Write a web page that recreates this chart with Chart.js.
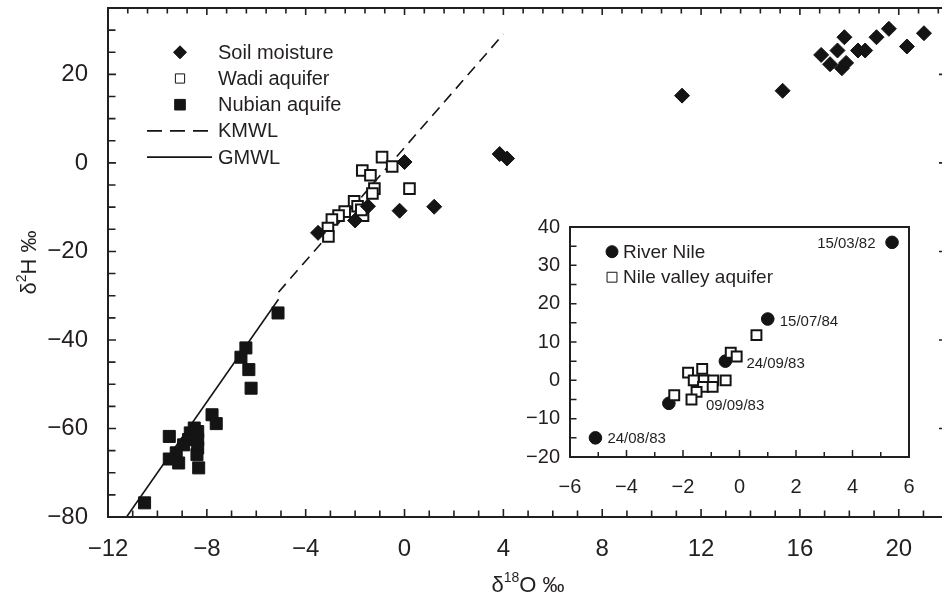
<!DOCTYPE html>
<html>
<head>
<meta charset="utf-8">
<script src="https://cdn.jsdelivr.net/npm/chart.js@4.4.1/dist/chart.umd.min.js"></script>
<style>
  html, body { margin: 0; padding: 0; background: #fff; }
  #wrap { position: relative; width: 942px; height: 602px; overflow: hidden; }
  #main { position: absolute; left: 0; top: 0; }
  #inset { position: absolute; left: 515px; top: 215px; }
</style>
</head>
<body>
<div id="wrap">
  <canvas id="main" width="942" height="602"></canvas>
  <canvas id="inset" width="400" height="290"></canvas>
</div>
<script>
// ---- main plot: δ18O (‰) and δ2H (‰) ----
const soilO = [0.0, -0.2, 1.2, -3.5, -2.0, -1.48, 3.85, 4.15, 11.23, 15.3, 16.86, 17.22, 17.52, 17.7, 17.87, 17.8, 18.35, 18.64, 19.1, 19.6, 20.33, 21.02];
const soilH = [0.2, -10.8, -9.9, -15.8, -13.0, -9.8, 2.0, 1.0, 15.2, 16.3, 24.4, 22.3, 25.4, 21.4, 22.6, 28.4, 25.4, 25.4, 28.4, 30.3, 26.3, 29.3];

const wadiO = [-0.91, -0.5, -1.71, -1.38, -1.22, -1.3, 0.2, -2.04, -1.9, -1.68, -1.75, -2.42, -2.67, -2.94, -3.1, -3.08];
const wadiH = [1.3, -0.8, -1.7, -2.8, -5.8, -6.9, -5.8, -8.7, -9.8, -11.9, -10.6, -11.0, -11.9, -12.8, -14.7, -16.6];

const nubianO = [-5.12, -6.42, -6.62, -6.3, -6.21, -7.79, -7.62, -9.52, -8.51, -8.67, -8.37, -8.37, -8.37, -8.4, -8.74, -8.94, -9.24, -9.52, -9.14, -8.33, -10.52];
const nubianH = [-33.9, -41.8, -43.9, -46.7, -50.9, -56.9, -58.9, -61.8, -59.9, -61.0, -60.7, -62.5, -64.4, -65.9, -62.5, -63.7, -65.5, -66.9, -67.8, -68.9, -76.8];

const kmwlO = [-5.1, 4.0];
const kmwlH = [-29.2, 29.1];
const gmwlO = [-11.25, -5.1];
const gmwlH = [-80, -30.8];

const mainXTicks = [-12, -8, -4, 0, 4, 8, 12, 16, 20];
const mainYTicks = [-80, -60, -40, -20, 0, 20];

// ---- inset: River Nile and Nile valley aquifer ----
const nileO = [5.4, 1.0, -0.5, -2.5, -5.1];
const nileH = [36, 16, 5, -6, -15];
const nileDates = ['15/03/82', '15/07/84', '24/09/83', '09/09/83', '24/08/83'];

const valleyO = [0.6, -0.31, -0.1, -2.31, -1.82, -1.32, -1.62, -1.26, -0.93, -0.49, -1.29, -0.95, -1.52, -1.7];
const valleyH = [11.8, 7.2, 6.2, -3.9, 2.0, 3.0, 0.0, 0.0, 0.0, 0.0, -1.7, -1.7, -3.0, -5.0];

const insetXTicks = [-6, -4, -2, 0, 2, 4, 6];
const insetYTicks = [-20, -10, 0, 10, 20, 30, 40];

// ---- drawing helpers ----
const INK = '#231f20';
const MARK = '#141414';
const FONT = "'Liberation Sans', Arial, Helvetica, sans-serif";

const pts = (xs, ys) => xs.map((x, i) => ({ x, y: ys[i] }));
const signed = v => String(v).replace('-', '\u2212');
const fixedTicks = list => scale => { scale.ticks = list.map(v => ({ value: v })); };
// fixed axis thickness, no extra room reserved for end labels
const fixedSize = (prop, px) => scale => {
  scale[prop] = px;
  scale.paddingTop = scale.paddingBottom = scale.paddingLeft = scale.paddingRight = 0;
};

// frame lines around the plot area plus inward-pointing tick marks
const frame = {
  id: 'frame',
  afterDatasetsDraw(chart, _args, o) {
    const { ctx, chartArea: a, scales } = chart;
    ctx.save();
    ctx.strokeStyle = INK;
    ctx.lineWidth = o.lineWidth;
    ctx.beginPath();
    ctx.moveTo(o.open ? a.right + 2 : a.right, a.top);
    ctx.lineTo(a.left, a.top);
    ctx.lineTo(a.left, a.bottom);
    ctx.lineTo(o.open ? a.right + 2 : a.right, a.bottom);
    if (!o.open) ctx.closePath();
    ctx.stroke();
    ctx.lineWidth = o.tickWidth;
    ctx.beginPath();
    for (const m of o.marks) {
      const s = scales[m.scale];
      for (let k = 0; ; k++) {
        const v = s.min + k * m.step;
        if (v > s.max + 1e-9) break;
        const len = k % m.every === 0 ? m.major : m.minor;
        const p = s.getPixelForValue(v);
        if (m.side === 'bottom') { ctx.moveTo(p, a.bottom); ctx.lineTo(p, a.bottom - len); }
        if (m.side === 'top') { ctx.moveTo(p, a.top); ctx.lineTo(p, a.top + len); }
        if (m.side === 'left') { ctx.moveTo(a.left, p); ctx.lineTo(a.left + len, p); }
        if (m.side === 'right') { ctx.moveTo(a.right, p); ctx.lineTo(a.right - len, p); }
      }
    }
    ctx.stroke();
    ctx.restore();
  }
};

// text with a raised part, e.g. δ18O
function richText(ctx, parts, x, y, size) {
  const fontOf = p => `${p.sup ? Math.round(size * 0.64) : size}px ${FONT}`;
  const widths = parts.map(p => { ctx.font = fontOf(p); return ctx.measureText(p.t).width; });
  let cx = x - widths.reduce((s, w) => s + w, 0) / 2;
  ctx.textAlign = 'left';
  ctx.textBaseline = 'middle';
  parts.forEach((p, i) => {
    ctx.font = fontOf(p);
    ctx.fillText(p.t, cx, y - (p.sup ? size * 0.36 : 0));
    cx += widths[i];
  });
}

const axisTitles = {
  id: 'axisTitles',
  afterDraw(chart, _args, o) {
    const { ctx, chartArea: a } = chart;
    ctx.save();
    ctx.fillStyle = INK;
    richText(ctx, o.x, (a.left + a.right) / 2 + o.xShift, o.xPos, o.size);
    ctx.translate(o.yPos, (a.top + a.bottom) / 2);
    ctx.rotate(-Math.PI / 2);
    richText(ctx, o.y, 0, 0, o.size);
    ctx.restore();
  }
};

// legend drawn as a block inside the plot
const keyBlock = {
  id: 'keyBlock',
  afterDraw(chart, _args, o) {
    const { ctx } = chart;
    ctx.save();
    o.items.forEach((it, i) => {
      const y = o.top + i * o.gap;
      ctx.strokeStyle = MARK;
      ctx.fillStyle = it.fill;
      if (it.line) {
        ctx.lineWidth = 1.8;
        ctx.setLineDash(it.dash || []);
        ctx.beginPath();
        ctx.moveTo(o.lineFrom, y);
        ctx.lineTo(o.lineTo, y);
        ctx.stroke();
        ctx.setLineDash([]);
      } else {
        Chart.helpers.drawPoint(ctx, { pointStyle: it.style, radius: it.r, borderWidth: it.bw, rotation: 0 }, o.markX, y);
      }
      ctx.fillStyle = INK;
      ctx.font = `${o.size}px ${FONT}`;
      ctx.textAlign = 'left';
      ctx.textBaseline = 'middle';
      ctx.fillText(it.text, o.textX, y + 1);
    });
    ctx.restore();
  }
};

// sampling dates beside the River Nile points
const dateTags = {
  id: 'dateTags',
  afterDatasetsDraw(chart, _args, o) {
    const { ctx, scales: { x, y } } = chart;
    ctx.save();
    ctx.fillStyle = INK;
    ctx.font = `${o.size}px ${FONT}`;
    ctx.textBaseline = 'middle';
    nileDates.forEach((t, i) => {
      const pl = o.place[i];
      ctx.textAlign = pl.align;
      ctx.fillText(t, x.getPixelForValue(nileO[i]) + pl.dx, y.getPixelForValue(nileH[i]) + pl.dy);
    });
    ctx.restore();
  }
};

const tickFont = size => ({ size, family: FONT });

// ---- main chart ----
new Chart(document.getElementById('main'), {
  type: 'scatter',
  data: {
    datasets: [
      { label: 'Soil moisture', data: pts(soilO, soilH), pointStyle: 'rectRot', pointRadius: 7.5,
        backgroundColor: MARK, borderColor: MARK, borderWidth: 1, order: 1 },
      { label: 'Wadi aquifer', data: pts(wadiO, wadiH), pointStyle: 'rect', pointRadius: 7.5,
        backgroundColor: '#fff', borderColor: MARK, borderWidth: 2, order: 2 },
      { label: 'Nubian aquife', data: pts(nubianO, nubianH), pointStyle: 'rect', pointRadius: 8.5,
        backgroundColor: MARK, borderColor: MARK, borderWidth: 1, order: 3 },
      { label: 'KMWL', data: pts(kmwlO, kmwlH), showLine: true, borderDash: [11, 7],
        borderColor: MARK, borderWidth: 1.6, pointRadius: 0, order: 4 },
      { label: 'GMWL', data: pts(gmwlO, gmwlH), showLine: true,
        borderColor: MARK, borderWidth: 1.6, pointRadius: 0, order: 5 }
    ]
  },
  options: {
    responsive: false,
    animation: false,
    devicePixelRatio: 1,
    events: [],
    layout: { autoPadding: false, padding: { top: 8, right: 0, left: 0, bottom: 0 } },
    scales: {
      x: {
        type: 'linear', min: -12, max: 21.75,
        afterBuildTicks: fixedTicks(mainXTicks),
        afterFit: fixedSize('height', 85),
        grid: { display: false, drawTicks: false },
        border: { display: false },
        ticks: { font: tickFont(24), color: INK, padding: 18, autoSkip: false, maxRotation: 0, callback: signed }
      },
      y: {
        type: 'linear', min: -80, max: 35,
        afterBuildTicks: fixedTicks(mainYTicks),
        afterFit: fixedSize('width', 108),
        grid: { display: false, drawTicks: false },
        border: { display: false },
        ticks: { font: tickFont(24), color: INK, padding: 20, autoSkip: false, callback: signed }
      }
    },
    plugins: {
      legend: { display: false },
      tooltip: { enabled: false },
      frame: {
        open: true, lineWidth: 2, tickWidth: 1.6,
        marks: [
          { scale: 'x', side: 'bottom', step: 1, every: 4, major: 8, minor: 6.5 },
          { scale: 'x', side: 'top', step: 0.8, every: 5, major: 7, minor: 5.5 },
          { scale: 'y', side: 'left', step: 5, every: 4, major: 8, minor: 7.5 },
          { scale: 'y', side: 'right', step: 20, every: 1, major: 3, minor: 3 }
        ]
      },
      axisTitles: {
        size: 22, xPos: 586, yPos: 30, xShift: 3,
        x: [{ t: 'δ' }, { t: '18', sup: true }, { t: 'O ‰' }],
        y: [{ t: 'δ' }, { t: '2', sup: true }, { t: 'H ‰' }]
      },
      keyBlock: {
        top: 52.3, gap: 26.2, markX: 180, textX: 218, lineFrom: 147, lineTo: 212, size: 20,
        items: [
          { text: 'Soil moisture', style: 'rectRot', r: 6.5, bw: 1, fill: MARK },
          { text: 'Wadi aquifer', style: 'rect', r: 6.5, bw: 2, fill: '#fff' },
          { text: 'Nubian aquife', style: 'rect', r: 7.5, bw: 1, fill: MARK },
          { text: 'KMWL', line: true, dash: [15, 8], fill: MARK },
          { text: 'GMWL', line: true, fill: MARK }
        ]
      }
    }
  },
  plugins: [frame, axisTitles, keyBlock]
});

// ---- inset chart ----
new Chart(document.getElementById('inset'), {
  type: 'scatter',
  data: {
    datasets: [
      { label: 'Nile valley aquifer', data: pts(valleyO, valleyH), pointStyle: 'rect', pointRadius: 7,
        backgroundColor: '#fff', borderColor: MARK, borderWidth: 2, order: 1 },
      { label: 'River Nile', data: pts(nileO, nileH), pointStyle: 'circle', pointRadius: 6.3,
        backgroundColor: MARK, borderColor: MARK, borderWidth: 1, order: 2 }
    ]
  },
  options: {
    responsive: false,
    animation: false,
    devicePixelRatio: 1,
    events: [],
    layout: { autoPadding: false, padding: { top: 12, right: 6, left: 0, bottom: 0 } },
    scales: {
      x: {
        type: 'linear', min: -6, max: 6,
        afterBuildTicks: fixedTicks(insetXTicks),
        afterFit: fixedSize('height', 48),
        grid: { display: false, drawTicks: false },
        border: { display: false },
        ticks: { font: tickFont(20), color: INK, padding: 18, autoSkip: false, maxRotation: 0, callback: signed }
      },
      y: {
        type: 'linear', min: -20, max: 40,
        afterBuildTicks: fixedTicks(insetYTicks),
        afterFit: fixedSize('width', 55),
        grid: { display: false, drawTicks: false },
        border: { display: false },
        ticks: { font: tickFont(20), color: INK, padding: 10, autoSkip: false, callback: signed }
      }
    },
    plugins: {
      legend: { display: false },
      tooltip: { enabled: false },
      frame: {
        open: false, lineWidth: 2, tickWidth: 1.5,
        marks: [
          { scale: 'x', side: 'bottom', step: 1, every: 2, major: 7, minor: 5 },
          { scale: 'y', side: 'left', step: 5, every: 2, major: 6.5, minor: 6.5 }
        ]
      },
      keyBlock: {
        top: 36.7, gap: 25.5, markX: 97, textX: 108, lineFrom: 0, lineTo: 0, size: 19,
        items: [
          { text: 'River Nile', style: 'circle', r: 6, bw: 1, fill: MARK },
          { text: 'Nile valley aquifer', style: 'rect', r: 7, bw: 2, fill: '#fff' }
        ]
      },
      dateTags: {
        size: 15,
        place: [
          { align: 'right', dx: -16.5, dy: 2 },
          { align: 'left', dx: 12, dy: 2.5 },
          { align: 'left', dx: 21, dy: 2.5 },
          { align: 'left', dx: 37, dy: 3 },
          { align: 'left', dx: 12, dy: 1 }
        ]
      }
    }
  },
  plugins: [frame, keyBlock, dateTags]
});
</script>
</body>
</html>
